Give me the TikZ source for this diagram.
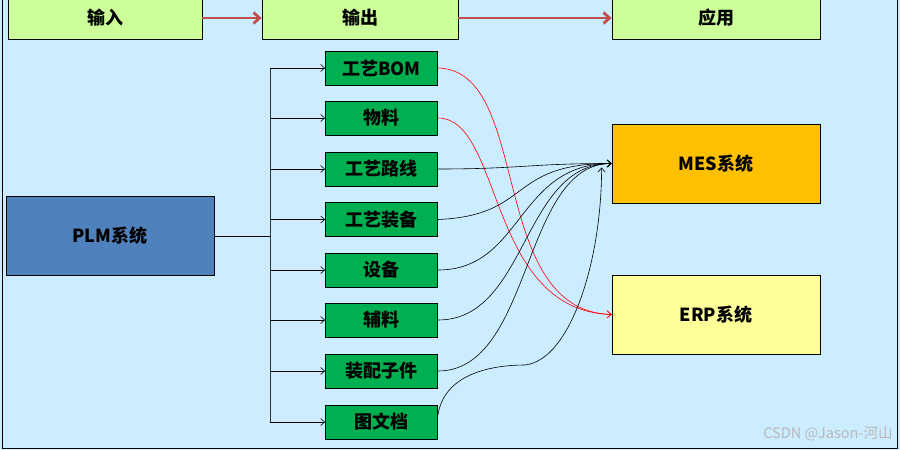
\documentclass[tikz,border=0pt]{standalone}
\usepackage{fontspec}
\setmainfont{Noto Sans CJK SC}
\usepackage{xcolor}
\usepackage{tikz}
\usetikzlibrary{arrows.meta,positioning,calc}
\definecolor{bgblue}{RGB}{204,236,255}
\definecolor{hdrgreen}{RGB}{204,255,153}
\definecolor{hdrred}{RGB}{192,80,77}
\definecolor{plmblue}{RGB}{79,129,189}
\definecolor{partgreen}{RGB}{0,176,80}
\definecolor{mesorange}{RGB}{255,192,0}
\definecolor{erpyellow}{RGB}{255,255,153}

\begin{document}
\begin{tikzpicture}[
  x=1pt, y=-1pt,
  font=\fontsize{18}{20}\selectfont\bfseries,
  every node/.style={align=center, draw=black, line width=0.8pt, inner sep=0pt},
  hdr/.style={fill=hdrgreen, minimum height=42pt},
  part/.style={fill=partgreen, minimum width=112pt, minimum height=34pt},
  sys/.style={minimum width=208pt, minimum height=79pt},
  tip/.style={-{Straight Barb[length=4pt,width=7pt]}, line width=0.6pt}
]
\useasboundingbox (0,0) rectangle (900,450);
\fill[bgblue] (0,0) rectangle (900,450);
\draw[line width=1pt] (2,-2) rectangle (897,448);
% header row
\node[hdr, minimum width=194pt] (inp) at (105,18) {输入};
\node[hdr, minimum width=196pt] (outp) at (360,18) {输出};
\node[hdr, minimum width=208pt] (app) at (716,18) {应用};
\draw[-{Straight Barb[length=6pt,width=11pt]}, hdrred, line width=2.8pt] (inp) -- (outp);
\draw[-{Straight Barb[length=6pt,width=11pt]}, hdrred, line width=2.8pt] (outp) -- (app);
% systems
\node[sys, fill=plmblue] (plm) at (110,236) {PLM系统};
\node[sys, fill=mesorange] (mes) at (716,163.5) {MES系统};
\node[sys, fill=erpyellow] (erp) at (716,314.5) {ERP系统};
% parts
\foreach \n/\t/\y in {bom/工艺BOM/68, wl/物料/118, lx/工艺路线/169, zb/工艺装备/219.5,
                      sb/设备/270, fl/辅料/320, zp/装配子件/371, tw/图文档/422}
  \node[part] (\n) at (381.5,\y) {\t};
\coordinate (top) at (270,68);
\coordinate (bot) at (270,422);
\draw[line width=1pt, black!80] (top) -- (bot);
\draw[line width=0.8pt] (plm.east) -- (plm.east -| top);
\foreach \n in {bom,wl,lx,zb,sb,fl,zp,tw}
  \draw[tip] (top |- \n.west) -- (\n.west);
% to ERP
\draw[tip, red] (bom.east) .. controls +(95,2) and +(-125,-4) .. (erp.west);
\draw[tip, red] (wl.east) .. controls +(65,0) and +(-125,-4) .. (erp.west);
% to MES
\draw[tip] (lx.east) .. controls +(82,0) and +(-82,0) .. (mes.west);
\draw[tip] (zb.east) .. controls +(95,-4) and +(-105,0) .. (mes.west);
\draw[tip] (sb.east) .. controls +(85,0) and +(-95,0) .. (mes.west);
\draw[tip] (fl.east) .. controls +(90,0) and +(-90,0) .. (mes.west);
\draw[tip] (zp.east) .. controls +(95,0) and +(-90,0) .. (mes.west);
\coordinate (twk) at (525,365);
\coordinate (mtip) at ([xshift=-10pt,yshift=-4pt]mes.west);
\draw[tip] ([yshift=7pt]tw.east) .. controls +(7,-45) and +(-25,0) .. (twk)
  .. controls +(45,-5) and +(0,95) .. (mtip);
\node[draw=none, text=gray!55, font=\fontsize{14.5}{16}\selectfont, anchor=east] (wm) at (893,434) {CSDN @Jason-河山};
\end{tikzpicture}
\end{document}
